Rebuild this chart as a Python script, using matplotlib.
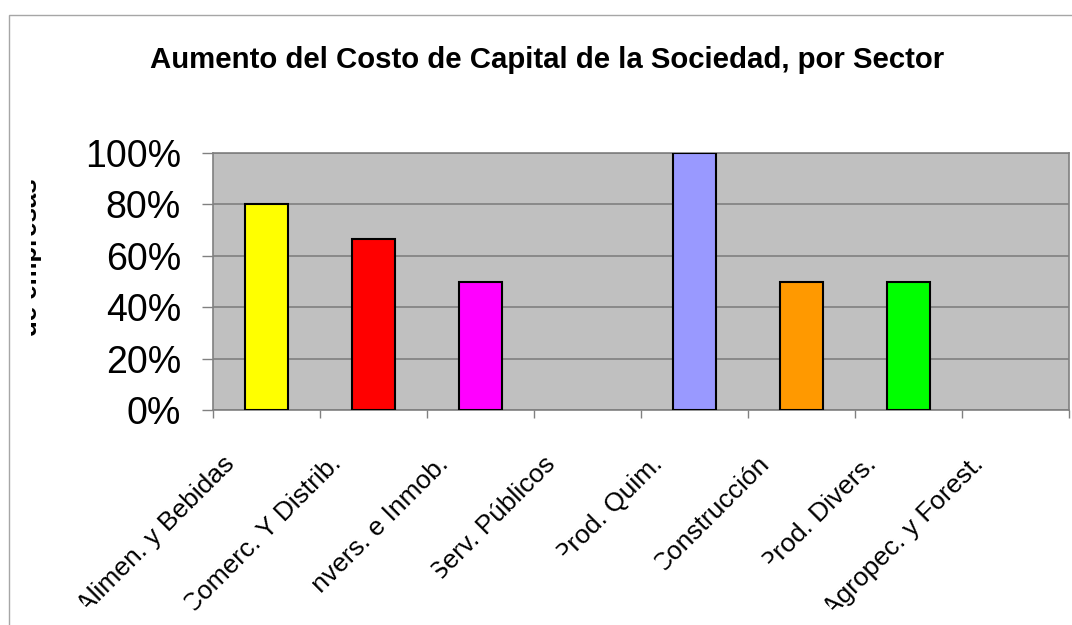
import numpy as np
import matplotlib
matplotlib.use('Agg')
import matplotlib.pyplot as plt
from matplotlib import transforms
from matplotlib.patches import Polygon, Rectangle
from matplotlib.ticker import PercentFormatter

# datos por sector
sectores = ['Alimen. y Bebidas', 'Comerc. Y Distrib.', 'Invers. e Inmob.', 'Serv. Públicos',
            'Prod. Quim.', 'Construcción', 'Prod. Divers.', 'Agropec. y Forest.']
porcentaje = [80, 66.7, 50, 0, 100, 50, 50, 0]
colores = ['#ffff00', '#ff0000', '#ff00ff', '#00ffff', '#9999ff', '#ff9900', '#00ff00', '#808080']
y_ticks = [0, 20, 40, 60, 80, 100]

titulo = 'Aumento del Costo de Capital de la Sociedad, por Sector'
eje_y = 'de empresas'

plt.rcParams['font.family'] = ['Liberation Sans', 'DejaVu Sans']

W, H = 1072, 625
fig = plt.figure(figsize=(W / 100, H / 100), dpi=100)

# area del grafico (en pixeles)
left, right, top, bottom = 213, 1069, 153, 410
ax = fig.add_axes([left / W, 1 - bottom / H, (right - left) / W, (bottom - top) / H])
ax.set_facecolor('#c0c0c0')

x = np.arange(len(sectores))
bordes = ['black' if v > 0 else 'none' for v in porcentaje]
ax.bar(x, porcentaje, width=0.41, color=colores, edgecolor=bordes, linewidth=1.5, zorder=3)

ax.set_xlim(-0.5, len(sectores) - 0.5)
ax.set_ylim(0, 100)
ax.set_yticks(y_ticks)
ax.yaxis.set_major_formatter(PercentFormatter(decimals=0))
ax.grid(axis='y', color='#808080', linewidth=1.2, zorder=1)
ax.set_axisbelow(True)
for s in ax.spines.values():
    s.set_color('#808080')
    s.set_linewidth(1.2)

ax.tick_params(axis='y', direction='out', length=8, width=1, color='#808080', labelsize=27, pad=15)
ax.set_xticks(x)
ax.set_xticklabels(sectores, rotation=45, ha='right', va='center', rotation_mode='anchor', fontsize=19)
ax.set_xticks(np.arange(-0.5, len(sectores)), minor=True)
ax.tick_params(axis='x', which='major', length=0, pad=0)
ax.tick_params(axis='x', which='minor', direction='out', length=6, width=1, color='#808080')

# correr las etiquetas a la izquierda y abajo
offset = transforms.ScaledTranslation(-0.36, -0.50, fig.dpi_scale_trans)
for lbl in ax.get_xticklabels():
    lbl.set_transform(lbl.get_transform() + offset)

fig.text(547.5 / W, 1 - 68 / H, titulo, ha='center', va='baseline', fontsize=21.2, fontweight='bold')

ylab = fig.text(37.5 / W, 1 - 257 / H, eje_y, rotation=90, rotation_mode='anchor',
                ha='center', va='baseline', fontsize=18.5, fontweight='bold')
ylab.set_clip_box(transforms.Bbox.from_extents(31, 0, W, H))

# marco exterior
fig.add_artist(Rectangle((9 / W, -0.1), 1.2, 1 - 15 / H + 0.1, transform=fig.transFigure,
                         fill=False, edgecolor='#a6a6a6', linewidth=1))

# tapar el comienzo de cada etiqueta del eje x (el texto queda cortado)
fig.canvas.draw()
renderer = fig.canvas.get_renderer()
u = np.array([np.cos(np.pi / 4), np.sin(np.pi / 4)])
n = np.array([-u[1], u[0]])
for lbl in ax.get_xticklabels():
    w, h, d = renderer.get_text_width_height_descent(lbl.get_text(), lbl.get_fontproperties(), ismath=False)
    em = lbl.get_fontsize() * fig.dpi / 72
    anchor = lbl.get_transform().transform(lbl.get_position())
    ini = anchor - w * u
    a = ini - 0.3 * em * u
    b = ini + 0.2 * em * u
    m = h / 2 + 3
    pts = [a + m * n, a - m * n, b - m * n, b + m * n]
    fig.add_artist(Polygon(pts, closed=True, transform=transforms.IdentityTransform(),
                           facecolor='white', edgecolor='none', zorder=10))

fig.savefig('out.png', dpi=100)
